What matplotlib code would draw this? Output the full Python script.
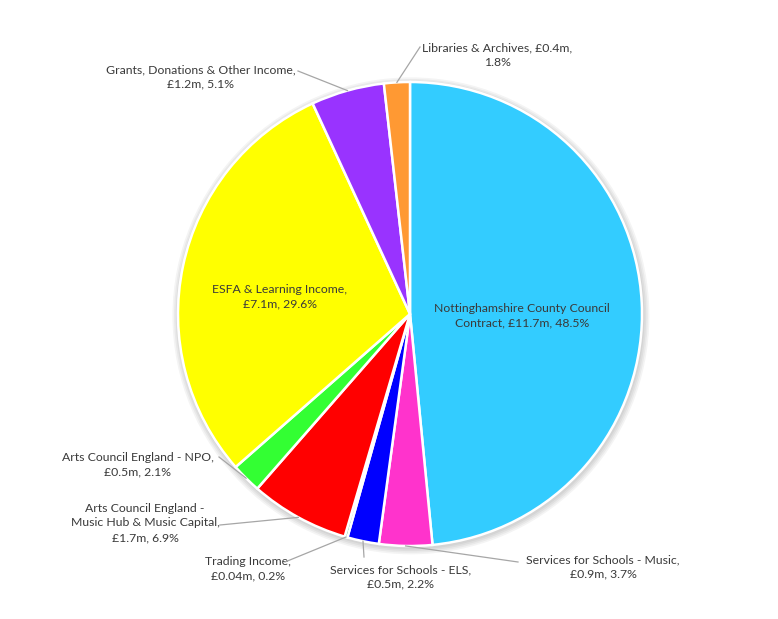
import matplotlib
matplotlib.use("Agg")
import matplotlib.pyplot as plt
import numpy as np
from matplotlib.patches import Circle

categories = [
    "Nottinghamshire County Council\nContract, £11.7m, 48.5%",
    "Services for Schools - Music,\n£0.9m, 3.7%",
    "Services for Schools - ELS,\n£0.5m, 2.2%",
    "Trading Income,\n£0.04m, 0.2%",
    "Arts Council England -\nMusic Hub & Music Capital,\n£1.7m, 6.9%",
    "Arts Council England - NPO,\n£0.5m, 2.1%",
    "ESFA & Learning Income,\n£7.1m, 29.6%",
    "Grants, Donations & Other Income,\n£1.2m, 5.1%",
    "Libraries & Archives, £0.4m,\n1.8%",
]
values = [48.5, 3.7, 2.2, 0.2, 6.9, 2.1, 29.6, 5.1, 1.8]
colors = ["#33CCFF", "#FF33CC", "#0000FF", "#339966", "#FF0000",
          "#33FF33", "#FFFF00", "#9933FF", "#FF9933"]

# label placement in pixels: (text center x, text center y, leader end x, leader end y or None)
label_pos = [
    (522, 316, None, None),
    (603, 567, 518, 562),
    (401, 577, 364, 557),
    (248, 569, 285, 562),
    (145, 523, 220, 525),
    (138, 465, 219, 457),
    (280, 297, None, None),
    (201, 77, 298, 71),
    (497, 55, 420, 47),
]

W, H = 778, 619
CX, CY, R = 410, 314, 232
fig = plt.figure(figsize=(W / 100, H / 100), dpi=100)

pax = fig.add_axes([(CX - R) / W, (H - CY - R) / H, 2 * R / W, 2 * R / H])
pax.set_xlim(-1, 1)
pax.set_ylim(-1, 1)
pax.set_aspect("equal")
pax.axis("off")

ax = fig.add_axes([0, 0, 1, 1])
ax.set_zorder(5)
ax.patch.set_alpha(0)
ax.set_xlim(0, W)
ax.set_ylim(H, 0)
ax.axis("off")

# soft shadow
for i in range(4):
    pax.add_patch(Circle((0.004, -0.008), 1.0 + 0.007 * (i + 1), color="#000000",
                         alpha=0.045, lw=0, zorder=0, clip_on=False))

wedges, _ = pax.pie(values, colors=colors, startangle=90, counterclock=False,
                    radius=1.0, center=(0, 0),
                    wedgeprops=dict(edgecolor="white", linewidth=1.8, zorder=2, clip_on=False))
pax.set_xlim(-1, 1)
pax.set_ylim(-1, 1)

txtcol = "#3A3A3A"
for w, lab, (tx, ty, lx, ly) in zip(wedges, categories, label_pos):
    ax.text(tx, ty, lab, ha="center", va="center", fontsize=8.8,
            family="Lato", color=txtcol, linespacing=1.42)
    if lx is not None:
        mid = np.deg2rad((w.theta1 + w.theta2) / 2)
        ex = CX + R * 1.0 * np.cos(mid)
        ey = CY - R * 1.0 * np.sin(mid)
        ax.plot([lx, ex], [ly, ey], color="#A6A6A6", lw=0.9, zorder=5)

fig.savefig("out.png", dpi=100, facecolor="white")
